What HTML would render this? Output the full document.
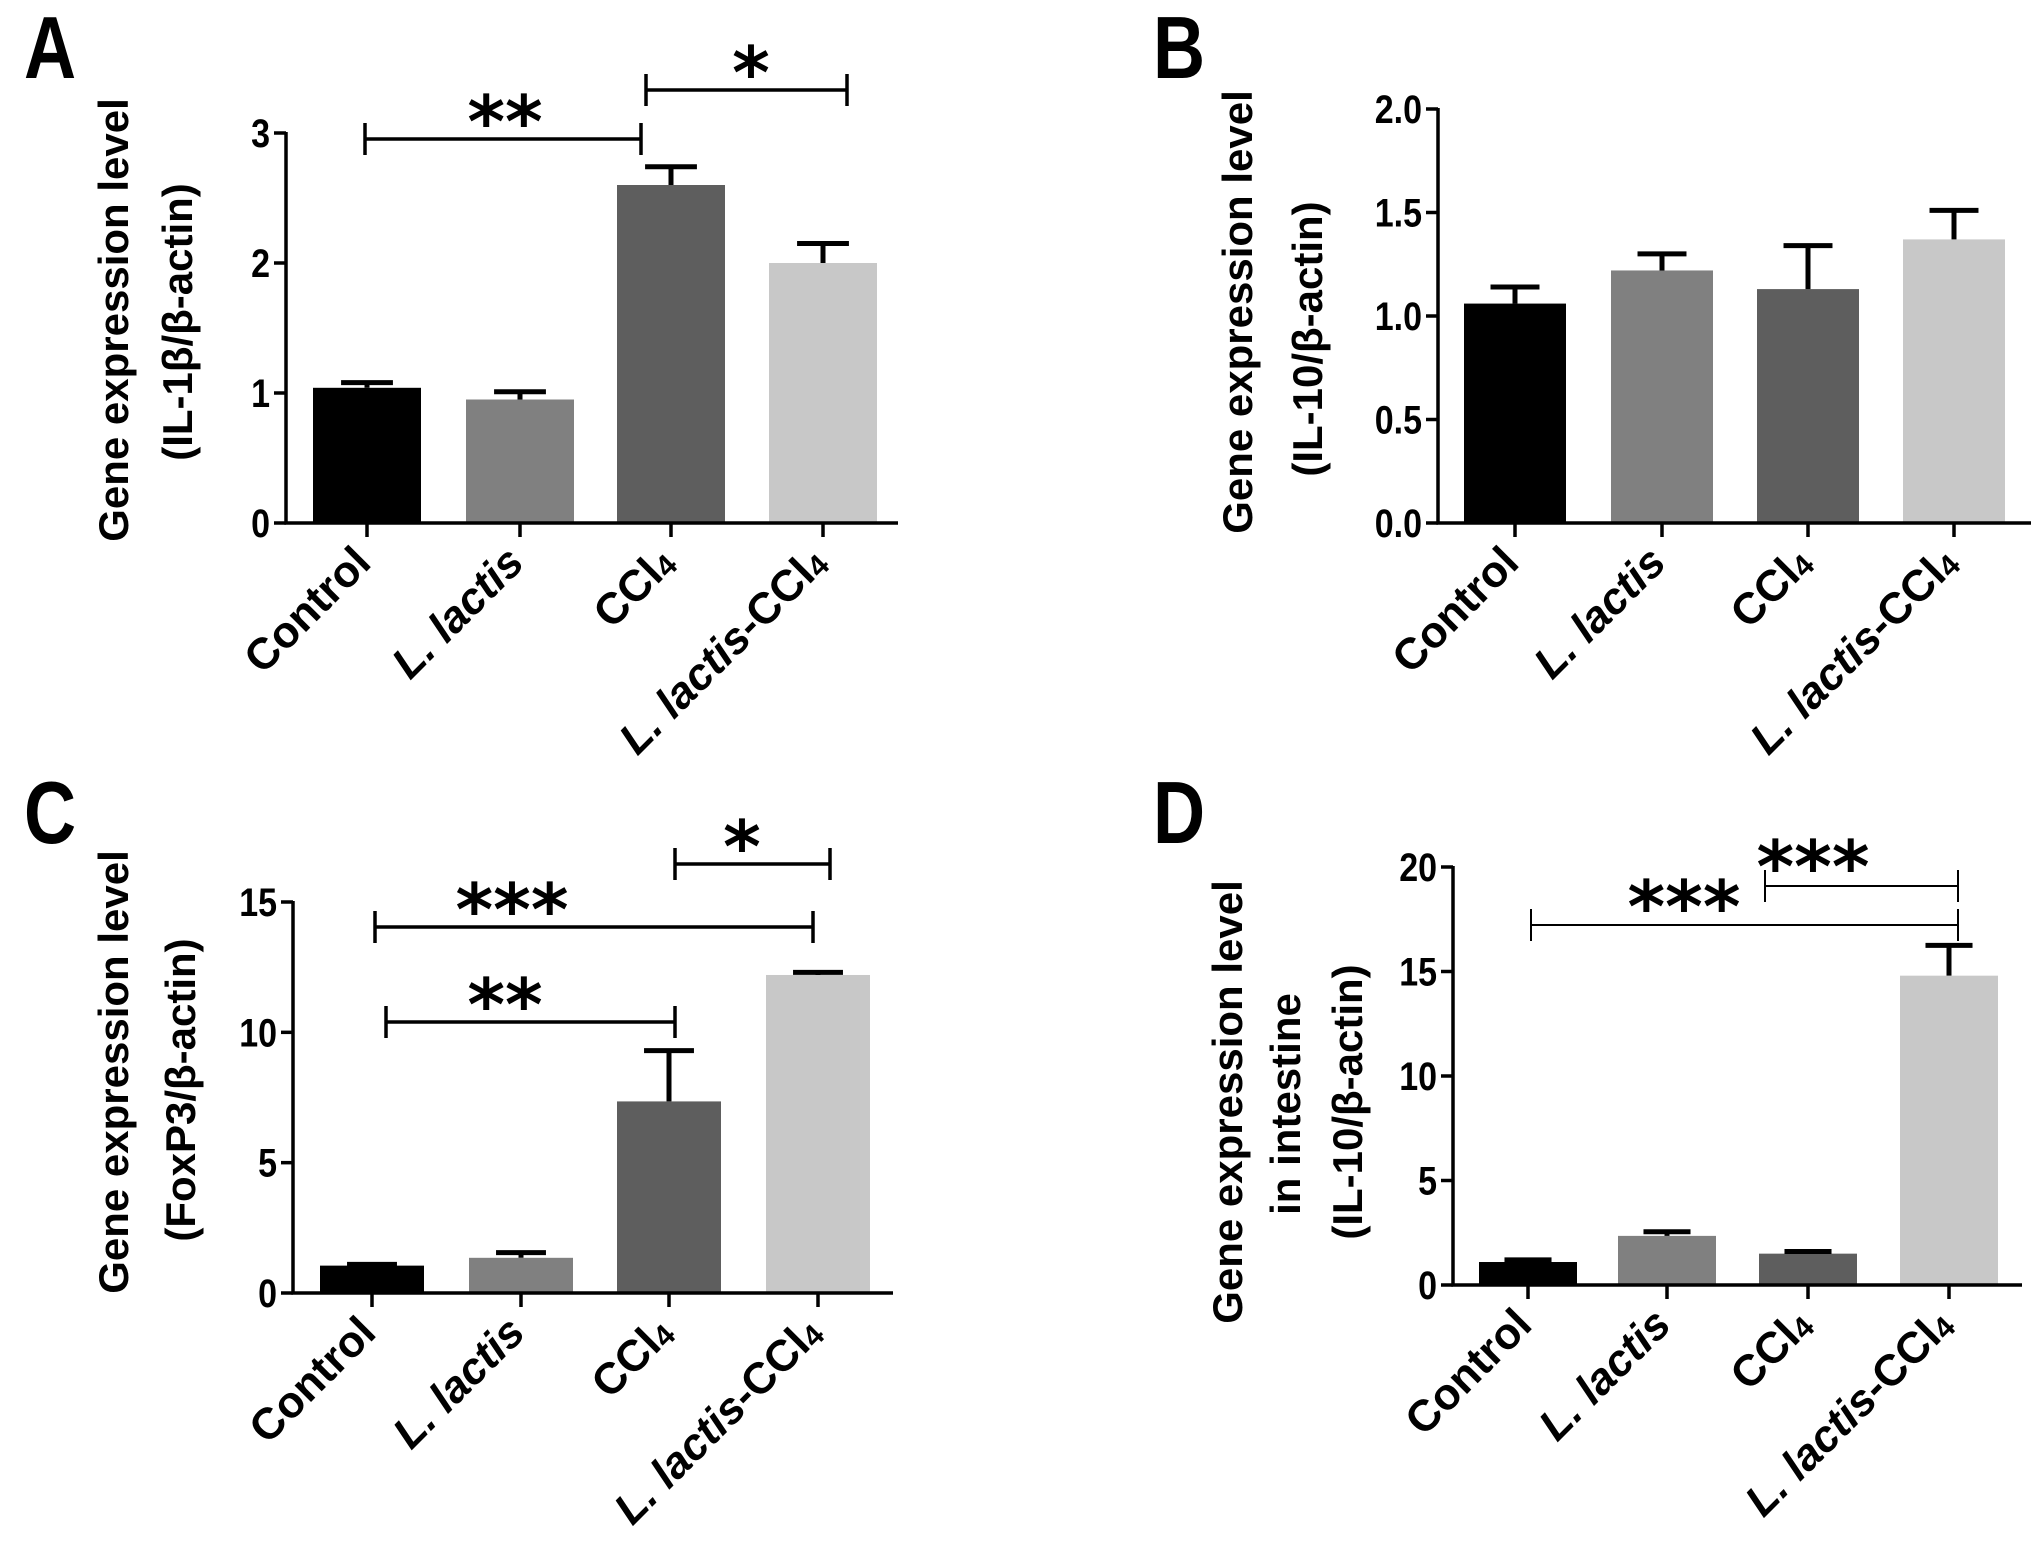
<!DOCTYPE html>
<html><head><meta charset="utf-8"><style>
html,body{margin:0;padding:0;background:#fff;}
svg{display:block;}
text{font-family:"Liberation Sans",Arial,sans-serif;font-weight:bold;fill:#000;}
.tick{font-family:"Liberation Sans",sans-serif;font-size:40px;}
.letter{font-family:"Liberation Sans",sans-serif;font-size:88px;}
</style></head><body>
<svg id="fig" width="2031" height="1548" viewBox="0 0 2031 1548" xmlns="http://www.w3.org/2000/svg"></svg>
<script>
const categories = ["Control", "L. lactis", "CCl4", "L. lactis-CCl4"];
const colors = ["#000000", "#808080", "#5e5e5e", "#c8c8c8"];
const valuesA = [1.04, 0.95, 2.60, 2.00];
const errorsA = [0.04, 0.06, 0.14, 0.15];
const ticksA = [0, 1, 2, 3];
const tickLabelsA = ["0", "1", "2", "3"];
const valuesB = [1.06, 1.22, 1.13, 1.37];
const errorsB = [0.08, 0.08, 0.21, 0.14];
const ticksB = [0, 0.5, 1.0, 1.5, 2.0];
const tickLabelsB = ["0.0", "0.5", "1.0", "1.5", "2.0"];
const valuesC = [1.05, 1.35, 7.35, 12.2];
const errorsC = [0.05, 0.2, 1.95, 0.1];
const ticksC = [0, 5, 10, 15];
const tickLabelsC = ["0", "5", "10", "15"];
const valuesD = [1.1, 2.35, 1.5, 14.8];
const errorsD = [0.1, 0.2, 0.1, 1.45];
const ticksD = [0, 5, 10, 15, 20];
const tickLabelsD = ["0", "5", "10", "15", "20"];

const NS = "http://www.w3.org/2000/svg";
const svg = document.getElementById("fig");
function mk(tag, attrs, parent){
  const e = document.createElementNS(NS, tag);
  for (const k in attrs) e.setAttribute(k, attrs[k]);
  (parent||svg).appendChild(e);
  return e;
}

function panel(cfg){
  const g = mk("g", {});
  
  
  const y = v => cfg.y0 - v / cfg.max * (cfg.y0 - cfg.yTop);
  const x = i => cfg.centers[i];
  const L = mk("text", {x: 0, y: 0, class: "letter", transform: `translate(${cfg.letterX} ${cfg.letterY}) scale(0.82 1)`}, g);
  L.textContent = cfg.id;
  
  
  cfg.values.forEach((v, i) => {
    const r = mk("rect", {x: x(i) - cfg.bw/2, y: y(v), width: cfg.bw, height: cfg.y0 - y(v), fill: colors[i]}, g);
    
    
    const top = y(v + cfg.errors[i]);
    const e = mk("path", {d: `M${x(i)},${y(v)}V${top}M${x(i)-cfg.bw*0.24},${top}H${x(i)+cfg.bw*0.24}`, stroke: "#000", "stroke-width": 5, fill: "none"}, g);
    
    
  });
  const ax = mk("path", {d: `M${cfg.axX},${cfg.yTop-1}V${cfg.y0}H${cfg.axEnd}`, stroke: "#000", "stroke-width": 3.5, fill: "none"}, g);
  
  
  cfg.ticks.forEach((t, i) => {
    mk("line", {x1: cfg.axX - 12, x2: cfg.axX, y1: y(t), y2: y(t), stroke: "#000", "stroke-width": 3.5}, g);
    const tl = mk("text", {x: 0, y: 0, "text-anchor": "end", class: "tick", transform: `translate(${cfg.axX - 16} ${y(t) + 14}) scale(0.85 1)`}, g);
    tl.textContent = cfg.tickLabels[i];
    
    
  });
  categories.forEach((c, i) => {
    mk("line", {x1: x(i), x2: x(i), y1: cfg.y0, y2: cfg.y0 + 14, stroke: "#000", "stroke-width": 3.5}, g);
    const ax0 = x(i) + 6, ay0 = cfg.y0 + 42;
    const t = mk("text", {x: ax0, y: ay0, "text-anchor": "end", "font-size": 44, transform: `rotate(-45 ${ax0} ${ay0})`}, g);
    
    
    if (c === "Control") t.textContent = c;
    else if (c === "L. lactis") { const s = mk("tspan", {"font-style": "italic"}, t); s.textContent = "L. lactis"; }
    else if (c === "CCl4") { const s = mk("tspan", {}, t); s.textContent = "CCl"; const s2 = mk("tspan", {"font-size": 30, dy: 3}, t); s2.textContent = "4"; }
    else { const s = mk("tspan", {"font-style": "italic"}, t); s.textContent = "L. lactis"; const s1 = mk("tspan", {}, t); s1.textContent = "-CCl"; const s2 = mk("tspan", {"font-size": 30, dy: 3}, t); s2.textContent = "4"; }
  });
  cfg.title.forEach((line, k) => {
    const tx = cfg.titleX[k], ty = cfg.titleCY[k];
    const t = mk("text", {x: tx, y: ty, "text-anchor": "middle", "font-size": 42, transform: `rotate(-90 ${tx} ${ty})`}, g);
    t.textContent = line;
    
    
  });
  (cfg.sig || []).forEach(s => {
    const p = mk("path", {d: `M${s.x1},${s.y-16}V${s.y+16}M${s.x1},${s.y}H${s.x2}M${s.x2},${s.y-16}V${s.y+16}`, stroke: "#000", "stroke-width": s.w, fill: "none"}, g);
    
    
    const t = mk("text", {x: s.lx, y: s.ly, "text-anchor": "middle", "font-size": 72}, g);
    t.setAttribute("style", "font-family:'DejaVu Sans',sans-serif;font-weight:bold");
    t.textContent = s.label;
    
    
  });
}

panel({id: "A", letterX: 24, letterY: 78, values: valuesA, errors: errorsA, ticks: ticksA, tickLabels: tickLabelsA, max: 3,
  y0: 523, yTop: 133, axX: 286, axEnd: 898, centers: [367, 520, 671, 823], bw: 108,
  title: ["Gene expression level", "(IL-1β/β-actin)"], titleX: [128, 192], titleCY: [320, 322],
  sig: [{x1: 365, x2: 641, y: 139, label: "**", w: 3.5, lx: 505, ly: 147}, {x1: 646, x2: 847, y: 90, label: "*", w: 3.5, lx: 751, ly: 98}]});
panel({id: "B", letterX: 1153, letterY: 78, values: valuesB, errors: errorsB, ticks: ticksB, tickLabels: tickLabelsB, max: 2,
  y0: 523, yTop: 109, axX: 1438, axEnd: 2031, centers: [1515, 1662, 1808, 1954], bw: 102,
  title: ["Gene expression level", "(IL-10/β-actin)"], titleX: [1252, 1322], titleCY: [312, 339]});
panel({id: "C", letterX: 24, letterY: 843, values: valuesC, errors: errorsC, ticks: ticksC, tickLabels: tickLabelsC, max: 15,
  y0: 1293, yTop: 902, axX: 293, axEnd: 893, centers: [372, 521, 669, 818], bw: 104,
  title: ["Gene expression level", "(FoxP3/β-actin)"], titleX: [128, 195], titleCY: [1072, 1090],
  sig: [{x1: 375, x2: 813, y: 927, label: "***", w: 3.5, lx: 512, ly: 935}, {x1: 386, x2: 675, y: 1022, label: "**", w: 3.5, lx: 505, ly: 1030}, {x1: 675, x2: 830, y: 864, label: "*", w: 3.5, lx: 742, ly: 872}]});
panel({id: "D", letterX: 1153, letterY: 843, values: valuesD, errors: errorsD, ticks: ticksD, tickLabels: tickLabelsD, max: 20,
  y0: 1285, yTop: 867, axX: 1453, axEnd: 2022, centers: [1528, 1667, 1808, 1949], bw: 98,
  title: ["Gene expression level", "in intestine", "(IL-10/β-actin)"], titleX: [1242, 1300, 1362], titleCY: [1102, 1104, 1102],
  sig: [{x1: 1531, x2: 1958, y: 925, label: "***", w: 2, lx: 1684, ly: 932}, {x1: 1765, x2: 1958, y: 886, label: "***", w: 2, lx: 1813, ly: 892}]});
</script>
</body></html>
